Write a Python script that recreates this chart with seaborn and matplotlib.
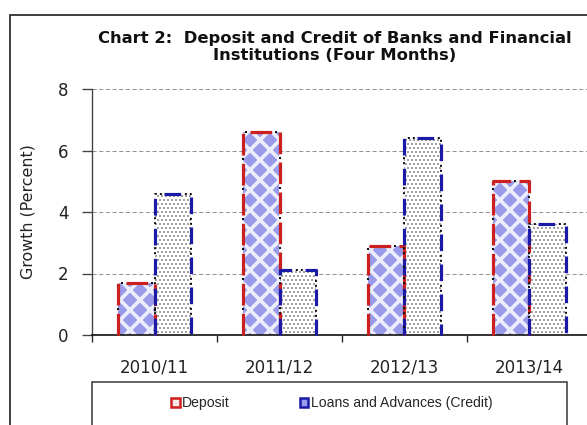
import matplotlib
matplotlib.use("Agg")
import matplotlib.pyplot as plt
from matplotlib.patches import Rectangle, Patch
import seaborn as sns
import pandas as pd

# Growth of deposits and credit, first four months of each fiscal year (percent)
years = ["2010/11", "2011/12", "2012/13", "2013/14"]
deposit = [1.7, 6.6, 2.9, 5.0]
credit = [4.6, 2.1, 6.4, 3.6]
series = ["Deposit", "Loans and Advances (Credit)"]
yticks = [0, 2, 4, 6, 8]

sns.set_theme(style="white")
plt.rcParams["lines.scale_dashes"] = False
plt.rcParams["font.family"] = ["Liberation Sans", "DejaVu Sans"]
plt.rcParams["hatch.linewidth"] = 2.2

RED = "#cc1f1f"
BLUE = "#1a1aa6"
LAVENDER = "#9a9aea"
PALE = "#eceefc"

DPI = 120
W, H = 587, 425
fig = plt.figure(figsize=(W / DPI, H / DPI), dpi=DPI, facecolor="white")
ax = fig.add_axes([92 / W, 90 / H, 500 / W, 246 / H])

df = pd.DataFrame({
    "year": years * 2,
    "series": [series[0]] * len(years) + [series[1]] * len(years),
    "value": deposit + credit,
})

sns.barplot(data=df, x="year", y="value", hue="series", order=years,
            hue_order=series, palette=[LAVENDER, "white"], saturation=1,
            width=0.58, errorbar=None, legend=False, ax=ax)

dep_bars, cred_bars = ax.containers[0], ax.containers[1]


def outline(p, color, dash, dots):
    x0, w, h = p.get_x(), p.get_width(), p.get_height()
    xs = [x0, x0, x0 + w, x0 + w]
    ys = [0, h, h, 0]
    ax.plot(xs, ys, color=color, lw=1.9, ls=dash, dash_capstyle="butt",
            zorder=5, clip_on=False)
    ax.plot(xs, ys, color="#111111", lw=1.2, ls=dots, dash_capstyle="butt",
            zorder=6, clip_on=False)


for p in dep_bars:
    p.set_hatch("xx")
    p.set_edgecolor(PALE)
    p.set_linewidth(0)
    if hasattr(p, "set_hatch_linewidth"):
        p.set_hatch_linewidth(2.2)
    outline(p, RED, (0, (13, 5)), (3, (1.2, 16.8)))

for p in cred_bars:
    p.set_hatch(".....")
    p.set_edgecolor("#555555")
    p.set_linewidth(0)
    if hasattr(p, "set_hatch_linewidth"):
        p.set_hatch_linewidth(0.45)
    outline(p, BLUE, (0, (10, 8)), (5.5, (1.2, 1.8, 1.2, 13.8)))

# axes styling
ax.set_xlim(-0.5, len(years) - 0.5)
ax.set_ylim(0, 8)
ax.set_yticks(yticks)
ax.set_axisbelow(True)
ax.yaxis.grid(True, color="#8a8a8a", ls=(0, (2.5, 1.5)), lw=0.55)
ax.xaxis.grid(False)
for s in ("top", "right"):
    ax.spines[s].set_visible(False)
ax.spines["left"].set_color("#404040")
ax.spines["left"].set_linewidth(0.8)
ax.spines["bottom"].set_color("#111111")
ax.spines["bottom"].set_linewidth(1.0)

ax.tick_params(axis="y", left=True, length=6, width=0.8, color="#404040",
               pad=8, labelsize=10, labelcolor="#222222")
ax.set_xticks(range(len(years)))
ax.set_xticklabels(years)
ax.tick_params(axis="x", which="major", bottom=True, length=0, pad=14,
               labelsize=10, labelcolor="#222222")
ax.set_xticks([i - 0.5 for i in range(len(years) + 1)], minor=True)
ax.tick_params(axis="x", which="minor", bottom=True, length=4, width=0.8,
               color="#222222", direction="out")
for lbl in ax.get_xticklabels() + ax.get_yticklabels():
    lbl.set_fontfamily("DejaVu Sans")

ax.set_xlabel("")
ax.set_ylabel("Growth (Percent)", fontsize=9.5, family="DejaVu Sans",
              color="#222222")
ax.yaxis.set_label_coords(-57 / 500, 0.5)

# title
fig.text(335 / W, 1 - 47 / H,
         "Chart 2:  Deposit and Credit of Banks and Financial\nInstitutions (Four Months)",
         ha="center", va="center", fontsize=9.8, fontweight="bold",
         family="DejaVu Sans", linespacing=1.1, color="#111111")

# outer chart frame
fig.add_artist(Rectangle((10 / W, -0.1), 1.2, (H - 15) / H + 0.1,
                         transform=fig.transFigure, fill=False,
                         ec="#333333", lw=1.1))

# legend box and entries
fig.add_artist(Rectangle((92 / W, -0.1), (567 - 92) / W, 0.1 + 43 / H,
                         transform=fig.transFigure, fill=False,
                         ec="#333333", lw=0.9))
handles = [Patch(facecolor="#fbeaea", edgecolor=RED, lw=1.5),
           Patch(facecolor="#9c9cec", edgecolor=BLUE, lw=1.5)]
fig.legend(handles, series, loc="center", bbox_to_anchor=(332 / W, 22 / H),
           ncol=2, frameon=False, fontsize=8.4, handlelength=0.6,
           handleheight=0.6, handletextpad=0.2, columnspacing=5.0)

fig.savefig("out.png", dpi=DPI, facecolor="white")
